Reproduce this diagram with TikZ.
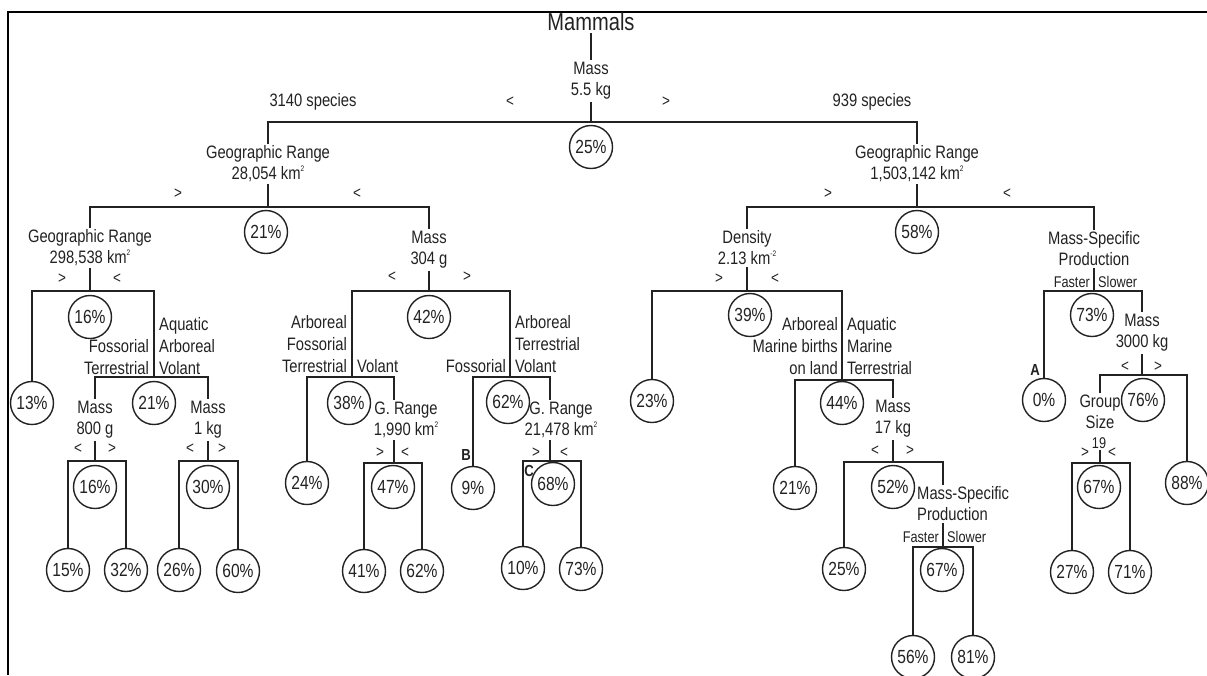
\documentclass[tikz,border=0pt]{standalone}
\usepackage{fontspec}
\setmainfont{Liberation Sans}[FakeStretch=0.82]
\usepackage{tikz}
\definecolor{ink}{HTML}{222222}
\newcommand{\supr}[1]{\raisebox{0.9ex}{\fontsize{8}{8}\selectfont #1}}
\tikzset{thk/.style = {line width=2.6pt, draw=ink}}
\tikzset{thn/.style = {line width=1.3pt, draw=ink}}
\tikzset{pct/.style = {draw=ink, line width=1.4pt, circle, inner sep=0, minimum size=43pt,
                       text=ink, font=\fontsize{19}{21}\selectfont}}
\tikzset{lbl/.style = {align=center, inner sep=2pt, text=ink, font=\fontsize{18}{21}\selectfont}}
\tikzset{side/.style = {inner sep=0, text=ink, font=\fontsize{18}{22}\selectfont}}
\tikzset{sml/.style = {inner sep=1pt, text=ink, font=\fontsize{15.5}{16}\selectfont}}
\tikzset{sgn/.style = {inner sep=0, text=ink, font=\fontsize{16.5}{16.5}\selectfont}}
\tikzset{tag/.style = {inner sep=0, text=ink, font=\bfseries\fontsize{16}{16}\selectfont}}

\begin{document}
\begin{tikzpicture}[x=1pt, y=-1pt]
      \useasboundingbox (0, 0) rectangle (1207, 675);
      \draw [line width=2pt] (8, 675) -- (8, 12) -- (1207, 12);

      % root split
      \node [lbl, font=\fontsize{24.5}{26}\selectfont] (mammals) at (591, 22) {Mammals};
      \node [lbl] (m0) at (591, 81) {Mass\\5.5 kg};
      \draw [thk] (mammals) -- (m0);
      \node [sgn] (lt0) at (510, 102) {<};
      \node [sgn] (gt0) at (666, 102) {>};
      \node [lbl] (n3140) at (313, 102) {3140 species};
      \node [lbl] (n939) at (872, 102) {939 species};
      \coordinate (j0) at (591, 122);
      \node [pct] (p25) at (591, 147) {25\%};
      \node [lbl] (g1) at (268, 164) {Geographic Range\\28,054 km\supr{2}};
      \node [lbl] (g2) at (917, 164) {Geographic Range\\1,503,142 km\supr{2}};
      \draw [thk] (m0) -- (j0);
      \draw [thk] (g1) |- (j0) -| (g2);

      % small species
      \node [sgn] (gt1) at (178, 194) {>};
      \node [sgn] (lt1) at (357, 194) {<};
      \coordinate (j1) at (268, 207);
      \node [pct] (p21) at (266, 232) {21\%};
      \node [lbl] (g3) at (90, 248) {Geographic Range\\298,538 km\supr{2}};
      \node [lbl] (m1) at (429, 250) {Mass\\304 g};
      \draw [thk] (g1) -- (j1);
      \draw [thk] (g3) |- (j1) -| (m1);

      \node [sgn] (gt3) at (62, 279) {>};
      \node [sgn] (lt3) at (117, 279) {<};
      \coordinate (j3) at (90, 291);
      \coordinate (k3) at (154, 377);
      \node [pct] (p16a) at (90, 317) {16\%};
      \node [pct] (p13) at (32, 403) {13\%};
      \node [pct] (p21b) at (154, 403) {21\%};
      \node [side, align=left, anchor=west] (s3r) at (159, 346) {Aquatic\\Arboreal\\Volant};
      \node [side, align=right, anchor=east] (s3l) at (149, 357) {Fossorial\\Terrestrial};
      \node [lbl] (m2) at (95, 420) {Mass\\800 g};
      \node [lbl] (m3) at (208, 420) {Mass\\1 kg};
      \draw [thk] (g3) -- (j3);
      \draw [thn] (p13) |- (j3) -| (k3);
      \draw [thn] (m2) |- (k3) -| (m3);

      \node [sgn] (lt2) at (78, 449) {<};
      \node [sgn] (gt2) at (112, 449) {>};
      \coordinate (j2) at (95, 461);
      \node [pct] (p16b) at (95, 487) {16\%};
      \node [pct] (p15) at (68, 570) {15\%};
      \node [pct] (p32) at (126, 570) {32\%};
      \draw [thn] (m2) -- (j2);
      \draw [thn] (p15) |- (j2) -| (p32);

      \node [sgn] (lt4) at (190, 449) {<};
      \node [sgn] (gt4) at (222, 449) {>};
      \coordinate (j4) at (208, 461);
      \node [pct] (p30) at (208, 487) {30\%};
      \node [pct] (p26) at (179, 570) {26\%};
      \node [pct] (p60) at (238, 571) {60\%};
      \draw [thn] (m3) -- (j4);
      \draw [thn] (p26) |- (j4) -| (p60);

      \node [sgn] (lt5) at (392, 277) {<};
      \node [sgn] (gt5) at (467, 277) {>};
      \coordinate (j5) at (429, 291);
      \coordinate (k5a) at (352, 377);
      \coordinate (k5b) at (510, 377);
      \node [pct] (p42) at (429, 317) {42\%};
      \draw [thk] (m1) -- (j5);
      \draw [thk] (k5a) |- (j5) -| (k5b);
      \node [side, align=right, anchor=east] (s5a) at (347, 344) {Arboreal\\Fossorial\\Terrestrial};
      \node [side, anchor=west] (s5b) at (357, 366) {Volant};
      \node [side, align=left, anchor=west] (s5c) at (515, 344) {Arboreal\\Terrestrial\\Volant};
      \node [side, anchor=east] (s5d) at (506, 366) {Fossorial};

      \node [pct] (p38) at (349, 403) {38\%};
      \node [pct] (p24) at (307, 483) {24\%};
      \node [lbl] (r1) at (406, 420) {G. Range\\1,990 km\supr{2}};
      \coordinate (j6) at (394, 463);
      \draw [thk] (p24) |- (k5a) -| (r1.north -| j6);
      \node [sgn] (gt6) at (380, 453) {>};
      \node [sgn] (lt6) at (405, 453) {<};
      \node [pct] (p47) at (393, 487) {47\%};
      \node [pct] (p41) at (364, 571) {41\%};
      \node [pct] (p62a) at (422, 571) {62\%};
      \draw [thk] (r1.south -| j6) -- (j6);
      \draw [thk] (p41) |- (j6) -| (p62a);

      \node [pct] (p62b) at (508, 402) {62\%};
      \node [pct] (p9) at (473, 488) {9\%};
      \node [tag] (tb) at (466, 455) {B};
      \node [lbl] (r2) at (561, 420) {G. Range\\21,478 km\supr{2}};
      \coordinate (j7) at (550, 461);
      \draw [thk] (p9) |- (k5b);
      \draw [thn] (k5b) -| (r2.north -| j7);
      \node [sgn] (gt7) at (536, 453) {>};
      \node [sgn] (lt7) at (564, 453) {<};
      \node [tag] (tc) at (529, 471) {C};
      \node [pct] (p68) at (553, 484) {68\%};
      \node [pct] (p10) at (523, 568) {10\%};
      \node [pct] (p73a) at (581, 569) {73\%};
      \draw [thn] (r2.south -| j7) -- (j7);
      \draw [thn] (p10) |- (j7) -| (p73a);

      % large species
      \node [sgn] (gt8) at (828, 194) {>};
      \node [sgn] (lt8) at (1007, 194) {<};
      \coordinate (j8) at (917, 207);
      \node [pct] (p58) at (917, 232) {58\%};
      \node [lbl] (d1) at (747, 248) {Density\\2.13 km\supr{-2}};
      \node [lbl] (q1) at (1094, 249) {Mass-Specific\\Production};
      \draw [thk] (g2) -- (j8);
      \draw [thk] (d1) |- (j8) -| (q1);

      \node [sgn] (gt9) at (719, 279) {>};
      \node [sgn] (lt9) at (775, 279) {<};
      \coordinate (j9) at (747, 291);
      \coordinate (k9) at (842, 380);
      \node [pct] (p39) at (750, 315) {39\%};
      \node [pct] (p23) at (652, 401) {23\%};
      \draw [thk] (d1) -- (j9);
      \draw [thk] (p23) |- (j9) -| (k9);
      \node [side, align=right, anchor=east] (s9a) at (838, 346) {Arboreal\\Marine births\\on land};
      \node [side, align=left, anchor=west] (s9b) at (847, 346) {Aquatic\\Marine\\Terrestrial};
      \node [pct] (p44) at (842, 403) {44\%};
      \node [pct] (p21c) at (795, 488) {21\%};
      \node [lbl] (m4) at (893, 419) {Mass\\17 kg};
      \draw [thk] (p21c) |- (k9) -| (m4);

      \node [sgn] (lt10) at (875, 451) {<};
      \node [sgn] (gt10) at (910, 451) {>};
      \coordinate (j10) at (893, 462);
      \coordinate (j11) at (943, 547);
      \node [pct] (p52) at (893, 487) {52\%};
      \node [pct] (p25b) at (844, 569) {25\%};
      \node [lbl, align=left, anchor=west] (q2) at (915, 504) {Mass-Specific\\Production};
      \draw [thk] (m4) -- (j10);
      \draw [thk] (p25b) |- (j10) -| (q2.north -| j11);
      \node [sml, anchor=east] (f2) at (940, 537) {Faster};
      \node [sml, anchor=west] (w2) at (946, 537) {Slower};
      \node [pct] (p67a) at (942, 570) {67\%};
      \node [pct] (p56) at (913, 657) {56\%};
      \node [pct] (p81) at (973, 657) {81\%};
      \draw [thk] (q2.south -| j11) -- (j11);
      \draw [thn] (p56) |- (j11) -| (p81);

      \node [sml, anchor=east] (f1) at (1091, 282) {Faster};
      \node [sml, anchor=west] (w1) at (1097, 282) {Slower};
      \coordinate (j12) at (1094, 291);
      \node [pct] (p73b) at (1092, 315) {73\%};
      \node [pct] (p0) at (1044, 400) {0\%};
      \node [tag] (ta) at (1035, 370) {A};
      \node [lbl] (m5) at (1142, 333) {Mass\\3000 kg};
      \draw [thk] (q1) -- (j12);
      \draw [thn] (p0) |- (j12) -| (m5);

      \node [sgn] (lt11) at (1125, 367) {<};
      \node [sgn] (gt11) at (1158, 367) {>};
      \coordinate (j13) at (1142, 375);
      \node [pct] (p76) at (1143, 400) {76\%};
      \node [pct] (p88) at (1187, 483) {88\%};
      \node [lbl] (gs) at (1100, 412) {Group\\Size};
      \draw [thn] (m5) -- (j13);
      \draw [thn] (gs) |- (j13) -| (p88);

      \node [sml] (n19) at (1099, 443) {19};
      \node [sgn] (gt12) at (1085, 453) {>};
      \node [sgn] (lt12) at (1112, 453) {<};
      \coordinate (j14) at (1100, 463);
      \node [pct] (p67b) at (1099, 487) {67\%};
      \node [pct] (p27) at (1072, 572) {27\%};
      \node [pct] (p71) at (1130, 572) {71\%};
      \draw [thn] (n19.south -| j14) -- (j14);
      \draw [thn] (p27) |- (j14) -| (p71);
    \end{tikzpicture}
\end{document}
